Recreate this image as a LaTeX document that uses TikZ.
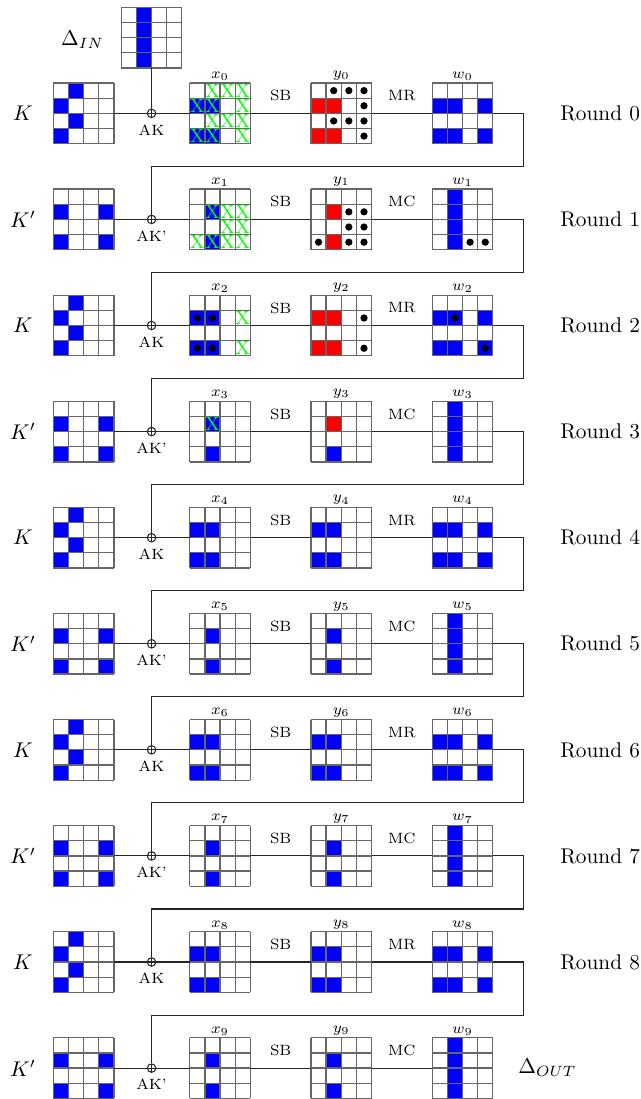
\documentclass[tikz,border=0pt]{standalone}
\usepackage{amsmath,amssymb}
\usetikzlibrary{calc,positioning}

% 4x4 state: fill cells, then draw the grid lines
\newcommand{\cellfill}[2]{%
  \foreach \cx/\ry/\cf in {#2}
    \fill[\cf] ($(#1.north west)+(\cx*0.25-0.25,0.25-\ry*0.25)$) rectangle ++(0.25,-0.25);}
\newcommand{\gridlines}[1]{%
  \foreach \k in {0,0.25,0.5,0.75,1} {
    \draw[gridline] ($(#1.north west)+(\k,0)$) -- ++(0,-1);
    \draw[gridline] ($(#1.north west)+(0,-\k)$) -- ++(1,0);}}
\newcommand{\statebox}[3]{%
  \node[stategrid] (#1) at (#2) {};
  \cellfill{#1}{#3}
  \gridlines{#1}}
\newcommand{\xmarks}[2]{%
  \foreach \cx/\ry in {#2}
    \node[xmk] (#1x\cx\ry) at ($(#1.north west)+(\cx*0.25-0.125,0.125-\ry*0.25)$) {X};}
\newcommand{\dotmarks}[2]{%
  \foreach \cx/\ry in {#2}
    \fill ($(#1.north west)+(\cx*0.25-0.125,0.125-\ry*0.25)$) circle (0.06);}

\begin{document}
\begin{tikzpicture}[
    stategrid/.style={fill=white, minimum size=1cm, inner sep=0pt, outer sep=0pt},
    gridline/.style={draw=black!60, line width=0.6pt},
    wire/.style={draw=black!85, line width=0.5pt},
    xorc/.style={circle, draw=black!85, line width=0.5pt, minimum size=0.14cm, inner sep=0pt,
      path picture={\draw[black!85, line width=0.5pt] (path picture bounding box.north) -- (path picture bounding box.south)
        (path picture bounding box.west) -- (path picture bounding box.east);}},
    xmk/.style={text=green, inner sep=0pt, font=\small},
    lbl/.style={font=\scriptsize, inner sep=1pt},
    oplbl/.style={font=\scriptsize}]
  \useasboundingbox (0,-16.26) rectangle (10.56,1.87);

  % input difference
  \statebox{din}{2.5,1.25}{2/1/blue,2/2/blue,2/3/blue,2/4/blue}
  \node (dinl) at (1.36,1.21) {$\Delta_{IN}$};

  % round 0
  \statebox{x0}{3.63,0}{1/2/blue,2/2/blue,1/4/blue,2/4/blue}
  \xmarks{x0}{2/1,3/1,4/1,1/2,2/2,4/2,2/3,3/3,4/3,1/4,2/4,4/4}
  \statebox{y0}{5.63,0}{1/2/red,2/2/red,1/4/red,2/4/red}
  \dotmarks{y0}{2/1,3/1,4/1,4/2,2/3,3/3,4/3,4/4}
  \statebox{w0}{7.63,0}{1/2/blue,2/2/blue,4/2/blue,1/4/blue,2/4/blue,4/4/blue}

  % round 1
  \statebox{x1}{3.63,-1.75}{2/2/blue,2/4/blue}
  \xmarks{x1}{2/2,3/2,4/2,3/3,4/3,1/4,2/4,3/4,4/4}
  \statebox{y1}{5.63,-1.75}{2/2/red,2/4/red}
  \dotmarks{y1}{3/2,4/2,3/3,4/3,1/4,3/4,4/4}
  \statebox{w1}{7.63,-1.75}{2/1/blue,2/2/blue,2/3/blue,2/4/blue}
  \dotmarks{w1}{3/4,4/4}

  % round 2
  \statebox{x2}{3.63,-3.5}{1/2/blue,2/2/blue,1/4/blue,2/4/blue}
  \dotmarks{x2}{1/2,2/2,1/4,2/4}
  \xmarks{x2}{4/2,4/4}
  \statebox{y2}{5.63,-3.5}{1/2/red,2/2/red,1/4/red,2/4/red}
  \dotmarks{y2}{4/2,4/4}
  \statebox{w2}{7.63,-3.5}{1/2/blue,2/2/blue,4/2/blue,1/4/blue,2/4/blue,4/4/blue}
  \dotmarks{w2}{2/2,4/4}

  % round 3
  \statebox{x3}{3.63,-5.25}{2/2/blue,2/4/blue}
  \xmarks{x3}{2/2}
  \statebox{y3}{5.63,-5.25}{2/2/red,2/4/blue}
  \statebox{w3}{7.63,-5.25}{2/1/blue,2/2/blue,2/3/blue,2/4/blue}

  % rounds 4 to 9
  \foreach \i in {4,...,9} {
    \pgfmathsetmacro{\yy}{-1.75*\i}
    \ifodd\i\relax
      \statebox{x\i}{3.63,\yy}{2/2/blue,2/4/blue}
      \statebox{y\i}{5.63,\yy}{2/2/blue,2/4/blue}
      \statebox{w\i}{7.63,\yy}{2/1/blue,2/2/blue,2/3/blue,2/4/blue}
    \else
      \statebox{x\i}{3.63,\yy}{1/2/blue,2/2/blue,1/4/blue,2/4/blue}
      \statebox{y\i}{5.63,\yy}{1/2/blue,2/2/blue,1/4/blue,2/4/blue}
      \statebox{w\i}{7.63,\yy}{1/2/blue,2/2/blue,4/2/blue,1/4/blue,2/4/blue,4/4/blue}
    \fi}

  % keys, labels and the line through each round
  \foreach \i in {0,...,9} {
    \pgfmathsetmacro{\yy}{-1.75*\i}
    \node[xorc] (ak\i) at (2.5,\yy) {};
    \ifodd\i\relax
      \statebox{key\i}{1.38,\yy}{1/2/blue,4/2/blue,1/4/blue,4/4/blue}
      \node (kl\i) at (0.38,\yy) {$K'$};
      \node[oplbl] (akl\i) at (2.5,\yy-0.27) {AK'};
      \node[oplbl] (ml\i) at (6.63,\yy+0.29) {MC};
    \else
      \statebox{key\i}{1.38,\yy}{2/1/blue,1/2/blue,2/3/blue,1/4/blue}
      \node (kl\i) at (0.38,\yy) {$K$};
      \node[oplbl] (akl\i) at (2.5,\yy-0.27) {AK};
      \node[oplbl] (ml\i) at (6.63,\yy+0.29) {MR};
    \fi
    \node[oplbl] (sb\i) at (4.63,\yy+0.29) {SB};
    \node[lbl, above=0pt of x\i] (lx\i) {$x_{\i}$};
    \node[lbl, above=0pt of y\i] (ly\i) {$y_{\i}$};
    \node[lbl, above=0pt of w\i] (lw\i) {$w_{\i}$};
    \draw[wire] (key\i) -- (ak\i) -- (x\i) -- (y\i) -- (w\i);
  }
  \draw[wire] (din) -- (ak0);

  % from one round to the next
  \foreach \i [evaluate=\i as \j using int(\i+1)] in {0,...,8} {
    \draw[wire] (w\i.east) -- ++(0.5,0) -- ++(0,-0.875) -| (ak\j);
    \node (rl\i) at (9.9,-1.75*\i) {Round \i};
  }
  \node (dout) at (9.03,-15.75) {$\Delta_{OUT}$};
\end{tikzpicture}
\end{document}
